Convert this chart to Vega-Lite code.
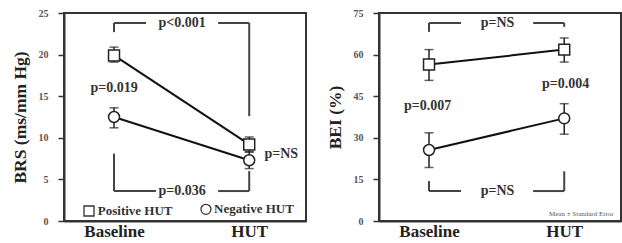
{
  "$schema": "https://vega.github.io/schema/vega-lite/v6.json",
  "padding": {"left": 10, "top": 7, "right": 5, "bottom": 0},
  "spacing": 18,
  "config": {
    "font": "Liberation Serif",
    "view": {"stroke": "#333", "strokeWidth": 2},
    "axis": {"grid": false, "domainColor": "#333", "domainWidth": 2},
    "axisX": {"ticks": false, "labelFontSize": 17, "labelFontWeight": "bold", "labelColor": "#222", "labelPadding": 2, "title": null},
    "axisY": {"tickSize": 6, "tickWidth": 1.5, "tickColor": "#333", "labelFontSize": 10, "labelFontWeight": "bold", "labelColor": "#555", "labelPadding": 10, "titleFontSize": 17.5, "titleFontWeight": "bold", "titleColor": "#222", "titlePadding": 9}
  },
  "datasets": {
    "means": [
      {"panel": "BRS", "group": "Positive", "x": 0, "y": 19.9, "lo": 19.1, "hi": 20.9},
      {"panel": "BRS", "group": "Positive", "x": 1, "y": 9.2, "lo": 8.3, "hi": 10.1},
      {"panel": "BRS", "group": "Negative", "x": 0, "y": 12.5, "lo": 11.2, "hi": 13.6},
      {"panel": "BRS", "group": "Negative", "x": 1, "y": 7.3, "lo": 6.3, "hi": 8.3},
      {"panel": "BEI", "group": "Positive", "x": 0, "y": 56.4, "lo": 50.7, "hi": 61.8},
      {"panel": "BEI", "group": "Positive", "x": 1, "y": 61.8, "lo": 57.3, "hi": 66.0},
      {"panel": "BEI", "group": "Negative", "x": 0, "y": 25.6, "lo": 19.3, "hi": 31.8},
      {"panel": "BEI", "group": "Negative", "x": 1, "y": 37.0, "lo": 31.3, "hi": 42.3}
    ],
    "brackets": [
      {"panel": "BRS", "x": 0, "x2": 0, "y": 22.7, "y2": 23.8},
      {"panel": "BRS", "x": 0, "x2": 0.237, "y": 23.8, "y2": 23.8},
      {"panel": "BRS", "x": 0.77, "x2": 1, "y": 23.8, "y2": 23.8},
      {"panel": "BRS", "x": 1, "x2": 1, "y": 12.6, "y2": 23.8},
      {"panel": "BRS", "x": 0, "x2": 0, "y": 3.6, "y2": 8.1},
      {"panel": "BRS", "x": 0, "x2": 0.31, "y": 3.6, "y2": 3.6},
      {"panel": "BRS", "x": 0.77, "x2": 1, "y": 3.6, "y2": 3.6},
      {"panel": "BRS", "x": 1, "x2": 1, "y": 3.6, "y2": 6.0},
      {"panel": "BEI", "x": 0, "x2": 0, "y": 68.2, "y2": 71.4},
      {"panel": "BEI", "x": 0, "x2": 0.237, "y": 71.4, "y2": 71.4},
      {"panel": "BEI", "x": 0.77, "x2": 1, "y": 71.4, "y2": 71.4},
      {"panel": "BEI", "x": 1, "x2": 1, "y": 70.0, "y2": 71.4},
      {"panel": "BEI", "x": 0, "x2": 0, "y": 10.8, "y2": 14.4},
      {"panel": "BEI", "x": 0, "x2": 0.237, "y": 10.8, "y2": 10.8},
      {"panel": "BEI", "x": 0.77, "x2": 1, "y": 10.8, "y2": 10.8},
      {"panel": "BEI", "x": 1, "x2": 1, "y": 10.8, "y2": 17.9}
    ],
    "labels": [
      {"panel": "BRS", "x": 0.504, "y": 23.8, "text": "p<0.001"},
      {"panel": "BRS", "x": 0.504, "y": 3.6, "text": "p=0.036"},
      {"panel": "BRS", "x": 0, "y": 16.0, "text": "p=0.019"},
      {"panel": "BRS", "x": 1.237, "y": 8.1, "text": "p=NS"},
      {"panel": "BEI", "x": 0.507, "y": 71.4, "text": "p=NS"},
      {"panel": "BEI", "x": 0.507, "y": 10.8, "text": "p=NS"},
      {"panel": "BEI", "x": -0.01, "y": 41.3, "text": "p=0.007"},
      {"panel": "BEI", "x": 1.01, "y": 49.5, "text": "p=0.004"}
    ],
    "legend": [
      {"group": "Positive", "x": -0.185, "y": 1.2, "tx": -0.12, "text": "Positive HUT"},
      {"group": "Negative", "x": 0.68, "y": 1.4, "tx": 0.74, "text": "Negative HUT"}
    ],
    "notes": [
      {"x": 1.366, "y": 2.5, "text": "Mean ± Standard Error"}
    ]
  },
  "hconcat": [
    {
      "width": 242,
      "height": 208,
      "encoding": {
        "x": {"type": "quantitative", "scale": {"domain": [-0.37, 1.42], "nice": false, "zero": false},
              "axis": {"values": [0, 1], "labelExpr": "datum.value == 0 ? 'Baseline' : 'HUT'"}},
        "y": {"type": "quantitative", "scale": {"domain": [0, 25], "nice": false},
              "axis": {"values": [0, 5, 10, 15, 20, 25], "title": "BRS (ms/mm Hg)"}}
      },
      "layer": [
        {"data": {"name": "brackets"}, "transform": [{"filter": "datum.panel == 'BRS'"}],
         "mark": {"type": "rule", "color": "#444", "strokeWidth": 2},
         "encoding": {"x": {"field": "x"}, "x2": {"field": "x2"}, "y": {"field": "y"}, "y2": {"field": "y2"}}},
        {"data": {"name": "means"}, "transform": [{"filter": "datum.panel == 'BRS'"}],
         "mark": {"type": "line", "color": "#111", "strokeWidth": 2},
         "encoding": {"x": {"field": "x"}, "y": {"field": "y"}, "detail": {"field": "group"}}},
        {"data": {"name": "means"}, "transform": [{"filter": "datum.panel == 'BRS'"}],
         "mark": {"type": "rule", "color": "#222", "strokeWidth": 1.5},
         "encoding": {"x": {"field": "x"}, "y": {"field": "lo"}, "y2": {"field": "hi"}}},
        {"data": {"name": "means"}, "transform": [{"filter": "datum.panel == 'BRS'"}],
         "mark": {"type": "tick", "orient": "horizontal", "color": "#222", "size": 9, "thickness": 1.5},
         "encoding": {"x": {"field": "x"}, "y": {"field": "lo"}}},
        {"data": {"name": "means"}, "transform": [{"filter": "datum.panel == 'BRS'"}],
         "mark": {"type": "tick", "orient": "horizontal", "color": "#222", "size": 9, "thickness": 1.5},
         "encoding": {"x": {"field": "x"}, "y": {"field": "hi"}}},
        {"data": {"name": "means"}, "transform": [{"filter": "datum.panel == 'BRS'"}],
         "mark": {"type": "point", "filled": true, "fill": "white", "stroke": "#222", "strokeWidth": 1.5, "size": 120, "opacity": 1},
         "encoding": {"x": {"field": "x"}, "y": {"field": "y"},
                      "shape": {"field": "group", "type": "nominal", "scale": {"domain": ["Positive", "Negative"], "range": ["square", "circle"]}, "legend": null}}},
        {"data": {"name": "labels"}, "transform": [{"filter": "datum.panel == 'BRS'"}],
         "mark": {"type": "text", "fontSize": 14, "fontWeight": "bold", "color": "#333", "align": "center", "baseline": "middle"},
         "encoding": {"x": {"field": "x"}, "y": {"field": "y"}, "text": {"field": "text"}}},
        {"data": {"name": "legend"},
         "mark": {"type": "point", "filled": true, "fill": "white", "stroke": "#333", "strokeWidth": 1.3, "size": 100, "opacity": 1},
         "encoding": {"x": {"field": "x"}, "y": {"field": "y"},
                      "shape": {"field": "group", "type": "nominal", "scale": {"domain": ["Positive", "Negative"], "range": ["square", "circle"]}, "legend": null}}},
        {"data": {"name": "legend"},
         "mark": {"type": "text", "fontSize": 13, "fontWeight": "bold", "color": "#333", "align": "left", "baseline": "middle"},
         "encoding": {"x": {"field": "tx"}, "y": {"field": "y"}, "text": {"field": "text"}}}
      ]
    },
    {
      "width": 242,
      "height": 208,
      "encoding": {
        "x": {"type": "quantitative", "scale": {"domain": [-0.37, 1.42], "nice": false, "zero": false},
              "axis": {"values": [0, 1], "labelExpr": "datum.value == 0 ? 'Baseline' : 'HUT'"}},
        "y": {"type": "quantitative", "scale": {"domain": [0, 75], "nice": false},
              "axis": {"values": [0, 15, 30, 45, 60, 75], "title": "BEI (%)"}}
      },
      "layer": [
        {"data": {"name": "brackets"}, "transform": [{"filter": "datum.panel == 'BEI'"}],
         "mark": {"type": "rule", "color": "#444", "strokeWidth": 2},
         "encoding": {"x": {"field": "x"}, "x2": {"field": "x2"}, "y": {"field": "y"}, "y2": {"field": "y2"}}},
        {"data": {"name": "means"}, "transform": [{"filter": "datum.panel == 'BEI'"}],
         "mark": {"type": "line", "color": "#111", "strokeWidth": 2},
         "encoding": {"x": {"field": "x"}, "y": {"field": "y"}, "detail": {"field": "group"}}},
        {"data": {"name": "means"}, "transform": [{"filter": "datum.panel == 'BEI'"}],
         "mark": {"type": "rule", "color": "#222", "strokeWidth": 1.5},
         "encoding": {"x": {"field": "x"}, "y": {"field": "lo"}, "y2": {"field": "hi"}}},
        {"data": {"name": "means"}, "transform": [{"filter": "datum.panel == 'BEI'"}],
         "mark": {"type": "tick", "orient": "horizontal", "color": "#222", "size": 9, "thickness": 1.5},
         "encoding": {"x": {"field": "x"}, "y": {"field": "lo"}}},
        {"data": {"name": "means"}, "transform": [{"filter": "datum.panel == 'BEI'"}],
         "mark": {"type": "tick", "orient": "horizontal", "color": "#222", "size": 9, "thickness": 1.5},
         "encoding": {"x": {"field": "x"}, "y": {"field": "hi"}}},
        {"data": {"name": "means"}, "transform": [{"filter": "datum.panel == 'BEI'"}],
         "mark": {"type": "point", "filled": true, "fill": "white", "stroke": "#222", "strokeWidth": 1.5, "size": 120, "opacity": 1},
         "encoding": {"x": {"field": "x"}, "y": {"field": "y"},
                      "shape": {"field": "group", "type": "nominal", "scale": {"domain": ["Positive", "Negative"], "range": ["square", "circle"]}, "legend": null}}},
        {"data": {"name": "labels"}, "transform": [{"filter": "datum.panel == 'BEI'"}],
         "mark": {"type": "text", "fontSize": 14, "fontWeight": "bold", "color": "#333", "align": "center", "baseline": "middle"},
         "encoding": {"x": {"field": "x"}, "y": {"field": "y"}, "text": {"field": "text"}}},
        {"data": {"name": "notes"},
         "mark": {"type": "text", "fontSize": 7, "color": "#555", "align": "right", "baseline": "middle"},
         "encoding": {"x": {"field": "x"}, "y": {"field": "y"}, "text": {"field": "text"}}}
      ]
    }
  ]
}
